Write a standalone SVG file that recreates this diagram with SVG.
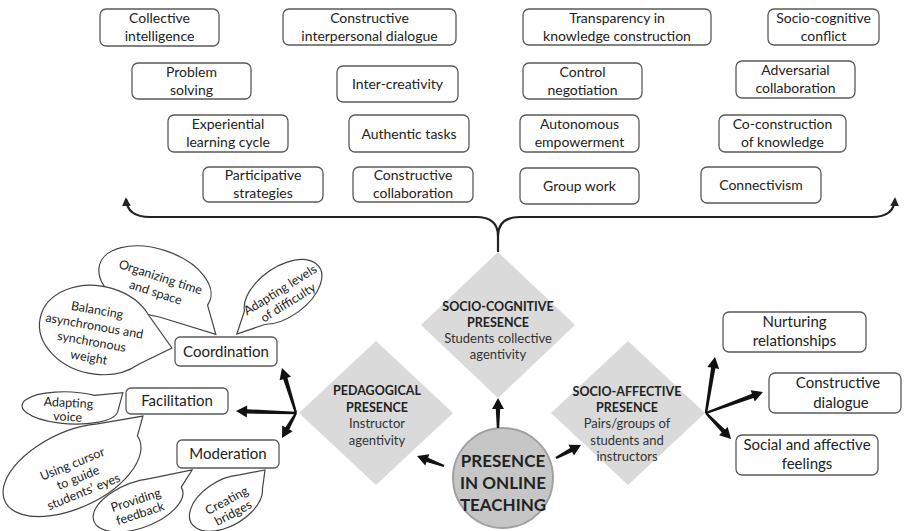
<svg xmlns="http://www.w3.org/2000/svg" width="904" height="531" viewBox="0 0 904 531">
<style>
text{font-family:Lato,"Open Sans","Liberation Sans",sans-serif;fill:#222;text-anchor:middle}
.bx{fill:#fff;stroke:#5a5a5a;stroke-width:1.3}
.t14{font-size:14px}
.t15{font-size:15px}
.bt{font-size:12.5px}
.dm{fill:#dadada}
.dt{font-size:12.5px;font-weight:bold}
.ds{font-size:13px;fill:#333}
.bub{fill:#fff;stroke:#444;stroke-width:1.2}
.arr{fill:#111}
.br{fill:none;stroke:#222;stroke-width:2.2}
</style>
<defs>
<marker id="ah" viewBox="0 0 10 10" refX="8" refY="5" markerWidth="4" markerHeight="4" orient="auto" markerUnits="strokeWidth">
<path d="M0,0 L10,5 L0,10 Z" fill="#222"/>
</marker>
</defs>
<rect width="904" height="531" fill="#fff"/>

<g id="top-boxes">
<g id="n-collective"><rect class="bx" x="100" y="9" width="119" height="37" rx="6"/><text class="t14" x="159.5" y="23">Collective</text><text class="t14" x="159.5" y="41">intelligence</text></g>
<g id="n-cid"><rect class="bx" x="283" y="9" width="173" height="36" rx="6"/><text class="t14" x="369.5" y="23">Constructive</text><text class="t14" x="369.5" y="41">interpersonal dialogue</text></g>
<g id="n-problem"><rect class="bx" x="132" y="63" width="119" height="36" rx="6"/><text class="t14" x="191.5" y="77">Problem</text><text class="t14" x="191.5" y="95">solving</text></g>
<g id="n-inter"><rect class="bx" x="337" y="66" width="121" height="36" rx="6"/><text class="t14" x="397.5" y="89">Inter-creativity</text></g>
<g id="n-experiential"><rect class="bx" x="168" y="115" width="120" height="37" rx="6"/><text class="t14" x="228" y="129">Experiential</text><text class="t14" x="228" y="147">learning cycle</text></g>
<g id="n-authentic"><rect class="bx" x="349" y="115" width="120" height="37" rx="6"/><text class="t14" x="409" y="138.5">Authentic tasks</text></g>
<g id="n-participative"><rect class="bx" x="203" y="167" width="120" height="35" rx="6"/><text class="t14" x="263" y="180">Participative</text><text class="t14" x="263" y="198">strategies</text></g>
<g id="n-cc"><rect class="bx" x="353" y="167" width="120" height="35" rx="6"/><text class="t14" x="413" y="180">Constructive</text><text class="t14" x="413" y="198">collaboration</text></g>
<g id="n-transparency"><rect class="bx" x="523" y="9" width="188" height="36" rx="6"/><text class="t14" x="617" y="23">Transparency in</text><text class="t14" x="617" y="41">knowledge construction</text></g>
<g id="n-scc"><rect class="bx" x="768" y="9" width="111" height="36" rx="6"/><text class="t14" x="823.5" y="23">Socio-cognitive</text><text class="t14" x="823.5" y="41">conflict</text></g>
<g id="n-control"><rect class="bx" x="523" y="63" width="119" height="36" rx="6"/><text class="t14" x="582.5" y="77">Control</text><text class="t14" x="582.5" y="95">negotiation</text></g>
<g id="n-adversarial"><rect class="bx" x="736" y="61" width="119" height="37" rx="6"/><text class="t14" x="795.5" y="75">Adversarial</text><text class="t14" x="795.5" y="93">collaboration</text></g>
<g id="n-autonomous"><rect class="bx" x="520" y="115" width="119" height="37" rx="6"/><text class="t14" x="579.5" y="129">Autonomous</text><text class="t14" x="579.5" y="147">empowerment</text></g>
<g id="n-coconstruction"><rect class="bx" x="719" y="115" width="127" height="37" rx="6"/><text class="t14" x="782.5" y="129">Co-construction</text><text class="t14" x="782.5" y="147">of knowledge</text></g>
<g id="n-group"><rect class="bx" x="520" y="168" width="119" height="36" rx="6"/><text class="t14" x="579.5" y="191">Group work</text></g>
<g id="n-connectivism"><rect class="bx" x="701" y="167" width="120" height="36" rx="6"/><text class="t14" x="761" y="190">Connectivism</text></g>
</g>

<g id="bubbles">
<g id="b-organizing"><path class="bub" transform="translate(155,282) rotate(18)" d="M57.1,5.7 L74,31 L15,31.9 A58,33 0 1 1 57.1,5.7 Z"/><g transform="translate(158,285) rotate(18)"><text class="bt" x="0" y="-4">Organizing time</text><text class="bt" x="0" y="12">and space</text></g></g>
<g id="b-levels"><path class="bub" transform="translate(283,292) rotate(-35)" d="M-42.5,-6.5 L-62,8 L-33.7,16.1 A44,25 0 1 0 -42.5,-6.5 Z"/><g transform="translate(284,296) rotate(-32)"><text class="bt" x="0" y="-3">Adapting levels</text><text class="bt" x="0" y="12">of difficulty</text></g></g>
<g id="b-balancing"><path class="bub" transform="translate(97,330) rotate(12)" d="M47.5,-25.2 L77,2 L47.5,25.2 A58,44 0 1 1 47.5,-25.2 Z"/><g transform="translate(93,334) rotate(10)"><text class="bt" x="0" y="-20">Balancing</text><text class="bt" x="0" y="-4">asynchronous and</text><text class="bt" x="0" y="12">synchronous</text><text class="bt" x="0" y="28">weight</text></g></g>
<g id="b-voice"><path class="bub" transform="translate(70,408) rotate(3)" d="M24,-13.9 L52,-18 L47.8,1.4 A48,16 0 1 1 24,-13.9 Z"/><g transform="translate(68,410) rotate(3)"><text class="bt" x="0" y="-3">Adapting</text><text class="bt" x="0" y="11">voice</text></g></g>
<g id="b-cursor"><path class="bub" transform="translate(72,470) rotate(-25)" d="M42.4,-31.1 L87.1,-18.9 L73.7,-3.3 A74,38 0 1 1 42.4,-31.1 Z"/><g transform="translate(78,478) rotate(-22)"><text class="bt" x="0" y="-11">Using cursor</text><text class="bt" x="0" y="4">to guide</text><text class="bt" x="0" y="19">students’ eyes</text></g></g>
<g id="b-feedback"><path class="bub" transform="translate(138,505) rotate(-20)" d="M19.9,-20.8 L62.8,-14.4 L46.8,-2 A47,23 0 1 1 19.9,-20.8 Z"/><g transform="translate(138,507) rotate(-18)"><text class="bt" x="0" y="-3">Providing</text><text class="bt" x="0" y="11">feedback</text></g></g>
<g id="b-bridges"><path class="bub" transform="translate(226,503) rotate(-30)" d="M25.7,-17.6 L50.3,-9.1 L38.6,6 A40,23 0 1 1 25.7,-17.6 Z"/><g transform="translate(230,507) rotate(-28)"><text class="bt" x="0" y="-3">Creating</text><text class="bt" x="0" y="11">bridges</text></g></g>
</g>

<g id="left-boxes">
<g id="n-coordination"><rect class="bx" x="175" y="337" width="102" height="29" rx="5"/><text class="t15" x="226" y="357">Coordination</text></g>
<g id="n-facilitation"><rect class="bx" x="126" y="388" width="102" height="26" rx="5"/><text class="t15" x="177" y="406">Facilitation</text></g>
<g id="n-moderation"><rect class="bx" x="177" y="440" width="102" height="28" rx="5"/><text class="t15" x="228" y="459">Moderation</text></g>
</g>

<g id="right-boxes">
<g id="n-nurturing"><rect class="bx" x="723" y="312" width="143" height="40" rx="6"/><text class="t15" x="794.5" y="327">Nurturing</text><text class="t15" x="794.5" y="346">relationships</text></g>
<g id="n-cdialogue"><rect class="bx" x="769" y="373" width="132" height="40" rx="6"/><text class="t15" x="838" y="388">Constructive</text><text class="t15" x="841" y="408">dialogue</text></g>
<g id="n-social"><rect class="bx" x="736" y="435" width="142" height="40" rx="6"/><text class="t15" x="807" y="450">Social and affective</text><text class="t15" x="807" y="469">feelings</text></g>
</g>

<g id="n-sociocognitive"><polygon class="dm" points="498,252 575,325 498,398 421,325"/><text class="dt" x="498" y="310.5">SOCIO-COGNITIVE</text><text class="dt" x="498" y="326.5">PRESENCE</text><text class="ds" x="498" y="342.5">Students collective</text><text class="ds" x="498" y="359">agentivity</text></g>
<g id="n-pedagogical"><polygon class="dm" points="376,341 453,413 376,485 299,413"/><text class="dt" x="377" y="394.5">PEDAGOGICAL</text><text class="dt" x="377" y="411.5">PRESENCE</text><text class="ds" x="377" y="427.5">Instructor</text><text class="ds" x="377" y="444.5">agentivity</text></g>
<g id="n-socioaffective"><polygon class="dm" points="628,341 705,413 628,485 551,413"/><text class="dt" x="627" y="395.5">SOCIO-AFFECTIVE</text><text class="dt" x="627" y="411.5">PRESENCE</text><text class="ds" x="627" y="427.5">Pairs/groups of</text><text class="ds" x="627" y="444.5">students and</text><text class="ds" x="627" y="460.5">instructors</text></g>
<g id="n-presence"><circle cx="503" cy="478" r="50" fill="#c6c6c6" stroke="#a0a0a0" stroke-width="2"/><text x="503" y="467" style="font-size:17px;font-weight:bold">PRESENCE</text><text x="503" y="489" style="font-size:17px;font-weight:bold">IN ONLINE</text><text x="503" y="511" style="font-size:17px;font-weight:bold">TEACHING</text></g>

<g id="connectors">
<path class="br" d="M498,252 L498,236 Q498,217 476,217 L150,217 Q127,217 126,199" marker-end="url(#ah)"/>
<path class="br" d="M498,236 Q498,217 520,217 L872,217 Q894,217 895,199" marker-end="url(#ah)"/>
<polygon class="arr" points="499.2,428 500.2,409 504,409 498,398 492,409 495.8,409 496.8,428"/>
<polygon class="arr" points="444.4,464.9 428.1,457.7 429.4,454.2 417,456 425.2,465.4 426.5,461.9 443.6,467.1"/>
<polygon class="arr" points="556.6,459.1 572.2,452 574,455.4 581,445 568.4,444.8 570.2,448.1 555.4,456.9"/>
<polygon class="arr" points="297.1,412.6 287.4,377.8 291,376.7 282,368 279.6,380.3 283.2,379.2 294.9,413.4"/>
<polygon class="arr" points="296,411.8 247.1,409.2 247.2,405.4 236,411 246.8,417.4 246.9,413.6 296,414.2"/>
<polygon class="arr" points="295,412.4 285.5,427.3 282.2,425.5 282,438 292.6,431.3 289.3,429.5 297,413.6"/>
<polygon class="arr" points="707.2,413.2 715.4,368.2 719.2,368.9 715,357 707.3,366.9 711.1,367.5 704.8,412.8"/>
<polygon class="arr" points="706.4,414.1 753.5,397.9 754.8,401.4 763,392 750.6,390.2 751.9,393.7 705.6,411.9"/>
<polygon class="arr" points="705.1,413.8 721.8,432.6 719.1,435.3 731,439 727.7,426.9 725,429.6 706.9,412.2"/>
</g>
</svg>
